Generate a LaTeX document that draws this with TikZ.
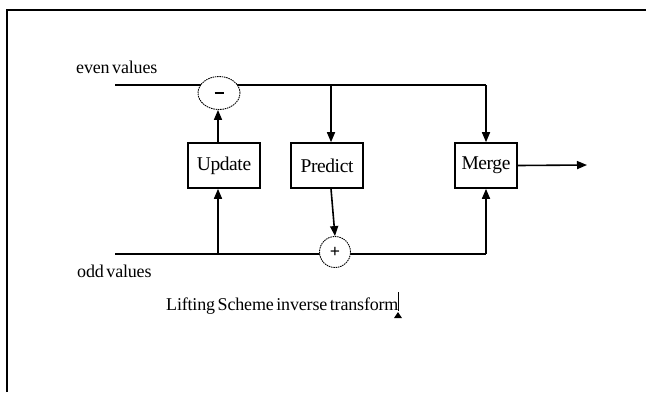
\documentclass[tikz,border=0pt]{standalone}
\usepackage{fontspec}
\setmainfont{Liberation Serif}
\newfontfamily\boxfont[LetterSpace=-2]{Liberation Serif}
\newfontfamily\lblfont[LetterSpace=-1,WordSpace=0.6]{Liberation Serif}
\usetikzlibrary{arrows.meta,shapes.geometric}
\tikzset{
  wire/.style={line width=1.6pt},
  arr/.style={wire,-{Triangle[length=10pt,width=8pt]}},
  blockbox/.style={draw,line width=1.6pt,minimum height=45pt,inner sep=0pt,font=\boxfont\fontsize{19.5}{22}\selectfont},
  opnode/.style={draw,fill=white,line width=0.9pt,dash pattern=on 1.5pt off 0.8pt,inner sep=0pt,font=\fontsize{18}{20}\selectfont\bfseries},
  lbl/.style={anchor=base west,inner sep=0pt,font=\lblfont\fontsize{18}{20}\selectfont}
}
\begin{document}
\begin{tikzpicture}[x=1pt,y=-1pt]
\useasboundingbox (0,0) rectangle (646,392);
% frame
\coordinate (fA) at (7,392);
\coordinate (fB) at (7,10);
\coordinate (fC) at (646,10);
\draw[line width=2.2pt] (fA) -- (fB) -- (fC);
% signal lines
\coordinate (evenstart) at (115,85);
\coordinate (evenend) at (486,85);
\coordinate (oddstart) at (115,254);
\coordinate (oddend) at (486,254);
\coordinate (evenP) at (331,85);
\coordinate (oddU) at (218,254);
\coordinate (outend) at (587,165);
\draw[wire] (evenstart) -- (evenend);
\draw[wire] (oddstart) -- (oddend);
% operators
\node[opnode,ellipse,minimum width=42pt,minimum height=33pt] (minus) at (219,93) {\raisebox{0pt}{\rule{9pt}{2.6pt}}};
\node[opnode,circle,minimum size=31pt] (plus) at (335,252) {+};
% blocks
\node[blockbox,minimum width=72pt] (update) at (224,165.5) {Update};
\node[blockbox,minimum width=72pt] (predict) at (327,165.5) {Predict};
\node[blockbox,minimum width=62pt] (merge) at (486,165.5) {Merge};
% connectors
\draw[arr] (oddU) -- (oddU |- update.south);
\draw[arr] (update.north -| oddU) -- (minus.south -| oddU);
\draw[arr] (evenP) -- (evenP |- predict.north);
\draw[arr] ([xshift=4pt]predict.south) -- (plus.north);
\draw[arr] (evenend) -- (merge.north);
\draw[arr] (oddend) -- (merge.south);
\draw[arr] (merge.east) -- (outend);
% labels
\node[lbl] (evenlbl) at (76,73) {even values};
\node[lbl] (oddlbl) at (77,277) {odd values};
\node[lbl] (title) at (166,310) {Lifting Scheme inverse transform};
% cursor marks
\coordinate (curA) at (398,292);
\coordinate (curB) at (398,311);
\draw[line width=0.9pt] (curA) -- (curB);
\coordinate (tA) at (394,318);
\coordinate (tB) at (402,318);
\coordinate (tC) at (398,312);
\fill (tA) -- (tB) -- (tC) -- cycle;
\end{tikzpicture}
\end{document}
